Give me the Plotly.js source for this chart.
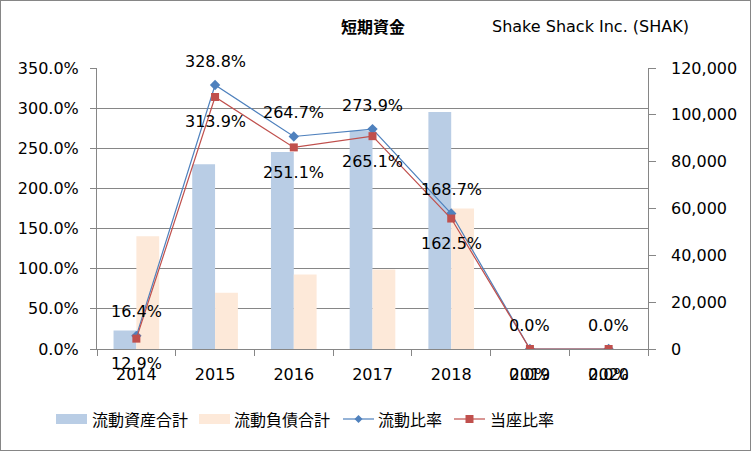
<!DOCTYPE html>
<html>
<head>
<meta charset="utf-8">
<script src="https://cdn.plot.ly/plotly-3.0.1.min.js"></script>
<style>
  html, body { margin: 0; padding: 0; background: #fff; }
  #chart { width: 749px; height: 449px; border: 1px solid #868686; }
</style>
</head>
<body>
<div id="chart"></div>
<script>
// ---- data ----
const categories = ['2014', '2015', '2016', '2017', '2018', '2019', '2020'];
const currentAssets = [7900, 78900, 84100, 93200, 101200, null, null];      // 流動資産合計
const currentLiabilities = [48100, 24000, 31800, 34000, 60000, null, null]; // 流動負債合計
const currentRatio = [16.4, 328.8, 264.7, 273.9, 168.7, 0.0, 0.0];          // 流動比率 (%)
const quickRatio = [12.9, 313.9, 251.1, 265.1, 162.5, 0.0, 0.0];            // 当座比率 (%)
const rightTicks = [0, 20000, 40000, 60000, 80000, 100000, 120000];         // right axis tick values
const seriesNames = ['流動資産合計', '流動負債合計', '流動比率', '当座比率'];
const titleText = '短期資金';
const companyText = 'Shake Shack Inc. (SHAK)';

const FONT = 'DejaVu Sans, Noto Sans CJK JP, sans-serif';
const JP = 'Noto Sans CJK JP, sans-serif';
const GRAY = '#868686';
const C_ASSET = '#B9CDE5', C_LIAB = '#FDE9D9', C_CR = '#4F81BD', C_QR = '#C0504D';

const W = 749, H = 449;
const M = { l: 96, r: 102, t: 67, b: 101 };
const PW = W - M.l - M.r, PH = H - M.t - M.b;
// convert pixel position (within the div) to paper coords
const px = v => (v - M.l) / PW;
const py = v => (H - M.b - v) / PH;

const traces = [
  { type: 'bar', name: seriesNames[0], x: categories, y: currentAssets, yaxis: 'y',
    marker: { color: C_ASSET }, hoverinfo: 'skip' },
  { type: 'bar', name: seriesNames[1], x: categories, y: currentLiabilities, yaxis: 'y',
    marker: { color: C_LIAB }, hoverinfo: 'skip' },
  { type: 'scatter', mode: 'lines+markers', name: seriesNames[2], x: categories, y: currentRatio,
    yaxis: 'y2', line: { color: C_CR, width: 1.2 },
    marker: { symbol: 'diamond', size: 8, color: C_CR }, hoverinfo: 'skip' },
  { type: 'scatter', mode: 'lines+markers', name: seriesNames[3], x: categories, y: quickRatio,
    yaxis: 'y2', line: { color: C_QR, width: 1.2 },
    marker: { symbol: 'square', size: 8, color: C_QR }, hoverinfo: 'skip' }
];

const annotations = [];
categories.forEach((c, i) => {
  annotations.push({ x: i, y: currentRatio[i], xref: 'x', yref: 'y2', yshift: 24,
    text: currentRatio[i].toFixed(1) + '%', showarrow: false, font: { family: FONT, size: 16, color: '#000' } });
  annotations.push({ x: i, y: quickRatio[i], xref: 'x', yref: 'y2', yshift: -25,
    text: quickRatio[i].toFixed(1) + '%', showarrow: false, font: { family: FONT, size: 16, color: '#000' } });
});
// right-axis tick labels, left aligned
rightTicks.forEach(v => {
  annotations.push({ x: px(668), y: v, xref: 'paper', yref: 'y', xanchor: 'left', yanchor: 'middle',
    text: v.toLocaleString('en-US'), showarrow: false, font: { family: FONT, size: 16, color: '#000' } });
});
annotations.push({ x: 0.5, y: 1, xref: 'paper', yref: 'paper', xanchor: 'center', yanchor: 'bottom',
  yshift: 28, text: '<b>' + titleText + '</b>', showarrow: false, font: { family: JP, size: 16, color: '#000' } });
annotations.push({ x: px(690), y: 1, xref: 'paper', yref: 'paper', xanchor: 'right', yanchor: 'bottom',
  yshift: 30, text: companyText, showarrow: false, font: { family: FONT, size: 16, color: '#000' } });

// ---- custom legend (drawn in paper space) ----
const legY = 418;
const shapes = [];
const legendItems = [
  { kind: 'bar', color: C_ASSET, x0: 55, textX: 89 },
  { kind: 'bar', color: C_LIAB, x0: 198, textX: 231 },
  { kind: 'line', color: C_CR, x0: 342, textX: 375, marker: 'diamond' },
  { kind: 'line', color: C_QR, x0: 453, textX: 487, marker: 'square' }
];
legendItems.forEach((it, i) => {
  if (it.kind === 'bar') {
    shapes.push({ type: 'rect', xref: 'paper', yref: 'paper', x0: px(it.x0), x1: px(it.x0 + 31),
      y0: py(legY + 5), y1: py(legY - 5), fillcolor: it.color, line: { width: 0 } });
  } else {
    shapes.push({ type: 'line', xref: 'paper', yref: 'paper', x0: px(it.x0), x1: px(it.x0 + 31),
      y0: py(legY), y1: py(legY), line: { color: it.color, width: 1.2 } });
    const cx = it.x0 + 15.5;
    if (it.marker === 'diamond') {
      const p = `M ${px(cx - 4)} ${py(legY)} L ${px(cx)} ${py(legY - 4)} L ${px(cx + 4)} ${py(legY)} L ${px(cx)} ${py(legY + 4)} Z`;
      shapes.push({ type: 'path', xref: 'paper', yref: 'paper', path: p, fillcolor: it.color, line: { width: 0 } });
    } else {
      shapes.push({ type: 'rect', xref: 'paper', yref: 'paper', x0: px(cx - 4), x1: px(cx + 4),
        y0: py(legY + 4), y1: py(legY - 4), fillcolor: it.color, line: { width: 0 } });
    }
  }
  annotations.push({ x: px(it.textX), y: py(legY), xref: 'paper', yref: 'paper', xanchor: 'left', yanchor: 'middle',
    text: seriesNames[i], showarrow: false, font: { family: JP, size: 16, color: '#000' } });
});

const layout = {
  width: W, height: H,
  margin: { l: M.l, r: M.r, t: M.t, b: M.b, pad: 0 },
  paper_bgcolor: '#fff', plot_bgcolor: '#fff',
  barmode: 'group', bargap: 0.42, bargroupgap: 0,
  showlegend: false,
  xaxis: { type: 'category', categoryorder: 'array', categoryarray: categories,
    range: [-0.5, categories.length - 0.5], autorange: false,
    showline: true, linecolor: GRAY, linewidth: 1,
    ticks: 'outside', tickson: 'boundaries', ticklen: 6, tickcolor: GRAY,
    ticklabelstandoff: 11, tickangle: 0, showgrid: false, zeroline: false,
    tickfont: { family: FONT, size: 16, color: '#000' } },
  yaxis: { side: 'right', range: [0, 120000], autorange: false, tickvals: rightTicks,
    showticklabels: false,
    showline: true, linecolor: GRAY, ticks: 'outside', ticklen: 7, tickcolor: GRAY,
    showgrid: false, zeroline: false },
  yaxis2: { overlaying: 'y', side: 'left', range: [0, 350], autorange: false, dtick: 50,
    tickformat: '.1f', ticksuffix: '%',
    showline: true, linecolor: GRAY, ticks: 'outside', ticklen: 6, tickcolor: GRAY,
    ticklabelstandoff: 8, showgrid: true, gridcolor: GRAY, gridwidth: 1, zeroline: false,
    tickfont: { family: FONT, size: 16, color: '#000' } },
  annotations: annotations,
  shapes: shapes
};

Plotly.newPlot('chart', traces, layout, { staticPlot: true, displayModeBar: false });
</script>
</body>
</html>
